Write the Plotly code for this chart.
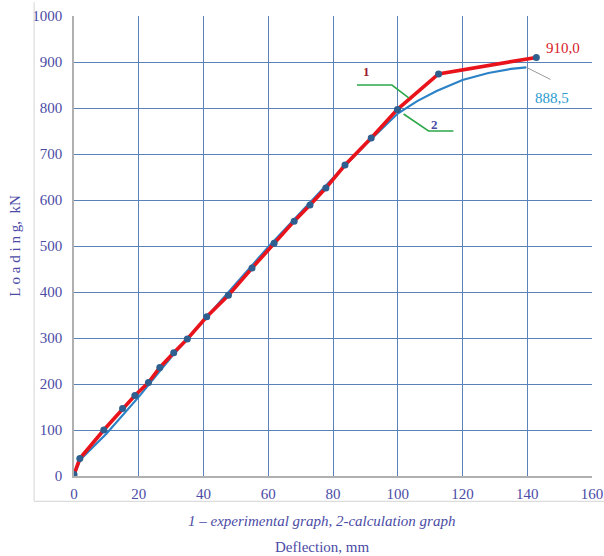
import plotly.graph_objects as go

# Experimental load–deflection curve (1)
exp_deflection = [0, 1.8, 9.2, 15, 18.8, 23, 26.5, 30.8, 35, 41, 47.7, 55, 61.8, 68, 72.9, 77.8, 83.7, 91.8, 99.9, 112.6, 142.8]
exp_load = [3, 38, 100, 147, 175, 203, 236, 268, 298, 346, 393, 452, 506, 554, 589, 626, 676, 735, 797, 874, 910]

# Calculated load–deflection curve (2)
calc_deflection = [0, 2, 10, 20, 30, 40, 50, 60, 70, 80, 90, 100, 106, 112, 120, 128, 135, 139.7]
calc_load = [0, 36, 92, 172, 258, 338, 418, 498, 573, 648, 720, 788, 815, 837, 861, 876, 885, 888.5]

x_ticks = [0, 20, 40, 60, 80, 100, 120, 140, 160]
y_ticks = [0, 100, 200, 300, 400, 500, 600, 700, 800, 900, 1000]

label_color = "#4b4ba6"
serif = "Liberation Serif, DejaVu Serif, serif"

fig = go.Figure()

fig.add_trace(go.Scatter(
    x=calc_deflection, y=calc_load, mode="lines",
    line=dict(color="#2b82c6", width=2.2), hoverinfo="skip", showlegend=False,
))
fig.add_trace(go.Scatter(
    x=exp_deflection, y=exp_load, mode="lines+markers",
    line=dict(color="#e8131b", width=3.6),
    marker=dict(color="#2f5f8f", size=7),
    showlegend=False,
))

# Curve labels with green leader lines
fig.add_trace(go.Scatter(
    x=[87.4, 98.2, 103.4], y=[850, 850, 822], mode="lines",
    line=dict(color="#2ea84a", width=1.6), hoverinfo="skip", showlegend=False,
))
fig.add_trace(go.Scatter(
    x=[101.8, 109.5, 117.2], y=[787, 750, 750], mode="lines",
    line=dict(color="#2ea84a", width=1.6), hoverinfo="skip", showlegend=False,
))
# Leader from end of calculated curve to its value label
fig.add_trace(go.Scatter(
    x=[calc_deflection[-1], 147.2], y=[calc_load[-1], 862], mode="lines",
    line=dict(color="#9a9a9a", width=1), hoverinfo="skip", showlegend=False,
))

annotations = [
    dict(x=90.3, y=880, text="<b>1</b>", font=dict(color="#9b1c2c", size=13, family=serif)),
    dict(x=111.2, y=765, text="<b>2</b>", font=dict(color="#4b4ba6", size=13, family=serif)),
    dict(x=exp_deflection[-1] + 8.3, y=exp_load[-1] + 20, text=f"{exp_load[-1]:.1f}".replace(".", ","),
         font=dict(color="#d8202a", size=15, family=serif)),
    dict(x=147.6, y=822, text=f"{calc_load[-1]:.1f}".replace(".", ","),
         font=dict(color="#2a9ad0", size=15, family=serif)),
    dict(x=0.478, y=-0.098, xref="paper", yref="paper",
         text="<i>1 – experimental graph, 2-calculation graph</i>",
         font=dict(color=label_color, size=15, family=serif)),
    dict(x=0.478, y=-0.155, xref="paper", yref="paper", text="Deflection, mm",
         font=dict(color=label_color, size=15, family=serif)),
]
for a in annotations:
    a.setdefault("xref", "x")
    a.setdefault("yref", "y")
    a["showarrow"] = False
    a["yanchor"] = "middle"
    a["xanchor"] = "center"
fig.update_layout(annotations=annotations)

# Light outer frame lines
fig.add_shape(type="line", xref="paper", yref="paper", x0=-0.077, x1=-0.077, y0=-0.055, y1=1.03,
              line=dict(color="#dcdcdc", width=1.2))
fig.add_shape(type="line", xref="paper", yref="paper", x0=-0.077, x1=1.03, y0=-0.055, y1=-0.055,
              line=dict(color="#dcdcdc", width=1.2))

fig.update_xaxes(
    range=[0, 160], tickvals=x_ticks, ticktext=[str(v) for v in x_ticks],
    showgrid=True, gridcolor="#5a82b8", gridwidth=1,
    showline=True, linecolor="#b0b0b0", linewidth=1.5,
    zeroline=False, ticks="", ticklabelstandoff=3, automargin=False,
    tickfont=dict(color=label_color, size=15, family=serif),
)
fig.update_yaxes(
    range=[0, 1000], tickvals=y_ticks, ticktext=[str(v) for v in y_ticks],
    showgrid=True, gridcolor="#5a82b8", gridwidth=1,
    showline=True, linecolor="#b0b0b0", linewidth=1.5,
    zeroline=False, ticks="", ticklabelstandoff=7, automargin=False,
    tickfont=dict(color=label_color, size=15, family=serif),
    title=dict(text="L o a d i n g,  kN", font=dict(color=label_color, size=15, family=serif), standoff=8),
)

fig.update_layout(
    width=604, height=556,
    margin=dict(l=74, r=12, t=16, b=80),
    paper_bgcolor="white", plot_bgcolor="white",
)

fig.write_html("out.html")
